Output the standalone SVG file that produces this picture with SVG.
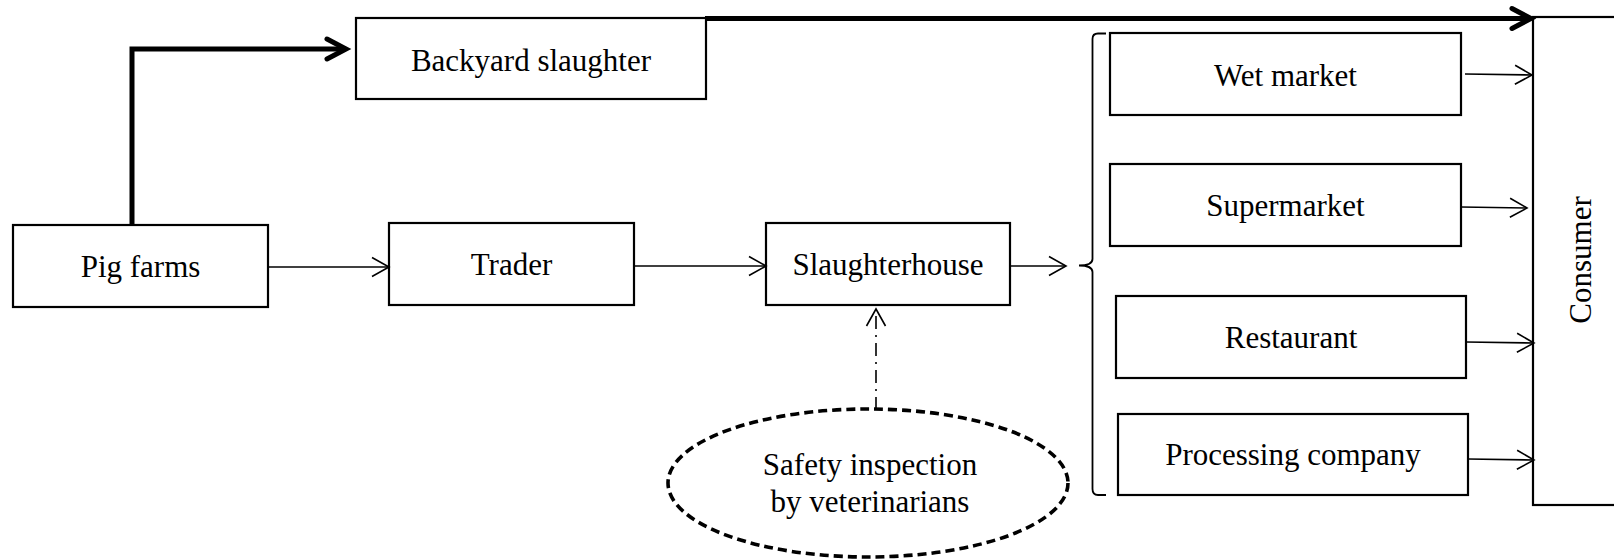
<svg xmlns="http://www.w3.org/2000/svg" width="1614" height="559" viewBox="0 0 1614 559">
<style>
.box{fill:#fff;stroke:#000;stroke-width:2.2}
.t{font-family:"Liberation Serif","Times New Roman",serif;font-size:31px;fill:#000;text-anchor:middle}
.c{fill:none;stroke:#000;stroke-width:1.6}
.thick{fill:none;stroke:#000;stroke-width:5}
</style>
<defs>
<marker id="a" markerUnits="userSpaceOnUse" markerWidth="40" markerHeight="40" refX="0" refY="0" orient="auto" overflow="visible">
<path d="M-17,-9.5 L0,0 L-17,9.5" fill="none" stroke="#000" stroke-width="1.6"/>
</marker>
<marker id="ta" markerUnits="userSpaceOnUse" markerWidth="40" markerHeight="40" refX="0" refY="0" orient="auto" overflow="visible">
<path d="M-19,-10 L0,0 L-19,10" fill="none" stroke="#000" stroke-width="5" stroke-linecap="round" stroke-linejoin="miter"/>
</marker>
</defs>
<g id="pig-farms"><rect class="box" x="13" y="225" width="255" height="82"/><text class="t" x="140.5" y="277">Pig farms</text></g>
<g id="trader"><rect class="box" x="389" y="223" width="245" height="82"/><text class="t" x="511.5" y="275">Trader</text></g>
<g id="backyard"><rect class="box" x="356" y="18" width="350" height="81"/><text class="t" x="531" y="71">Backyard slaughter</text></g>
<g id="slaughterhouse"><rect class="box" x="766" y="223" width="244" height="82"/><text class="t" x="888" y="275">Slaughterhouse</text></g>
<g id="wet-market"><rect class="box" x="1110" y="33" width="351" height="82"/><text class="t" x="1285.5" y="86">Wet market</text></g>
<g id="supermarket"><rect class="box" x="1110" y="164" width="351" height="82"/><text class="t" x="1285.5" y="216">Supermarket</text></g>
<g id="restaurant"><rect class="box" x="1116" y="296" width="350" height="82"/><text class="t" x="1291" y="348">Restaurant</text></g>
<g id="processing"><rect class="box" x="1118" y="414" width="350" height="81"/><text class="t" x="1293" y="465">Processing company</text></g>
<g id="consumer"><rect class="box" x="1533" y="17" width="100" height="488"/><text class="t" transform="translate(1591,260) rotate(-90)">Consumer</text></g>
<g id="inspection"><ellipse cx="868" cy="483" rx="200" ry="74" fill="#fff" stroke="#000" stroke-width="3.6" stroke-dasharray="9 5"/><text class="t" x="870" y="475">Safety inspection</text><text class="t" x="870" y="512">by veterinarians</text></g>
<g id="connectors">
<path class="thick" d="M132,225 L132,49 L346,49" marker-end="url(#ta)"/>
<path class="thick" d="M705,18.5 L1531,18.5" marker-end="url(#ta)"/>
<line class="c" x1="268" y1="267" x2="389" y2="267" marker-end="url(#a)"/>
<line class="c" x1="634" y1="266" x2="766" y2="266" marker-end="url(#a)"/>
<line class="c" x1="1010" y1="266" x2="1066" y2="266" marker-end="url(#a)"/>
<line class="c" x1="1465" y1="74" x2="1532" y2="75" marker-end="url(#a)"/>
<line class="c" x1="1461" y1="207" x2="1527" y2="208" marker-end="url(#a)"/>
<line class="c" x1="1466" y1="342" x2="1534" y2="343" marker-end="url(#a)"/>
<line class="c" x1="1468" y1="459" x2="1534" y2="460" marker-end="url(#a)"/>
<line class="c" x1="876" y1="410" x2="876" y2="309" stroke-dasharray="13 6 2 6" marker-end="url(#a)"/>
<path d="M1106,33.5 L1098,33.5 Q1092.5,33.5 1092.5,39 L1092.5,259 Q1092.5,265.5 1079,265.5 Q1092.5,265.5 1092.5,272 L1092.5,489 Q1092.5,495 1098,495 L1106,495" fill="none" stroke="#000" stroke-width="1.8"/>
</g>
</svg>
